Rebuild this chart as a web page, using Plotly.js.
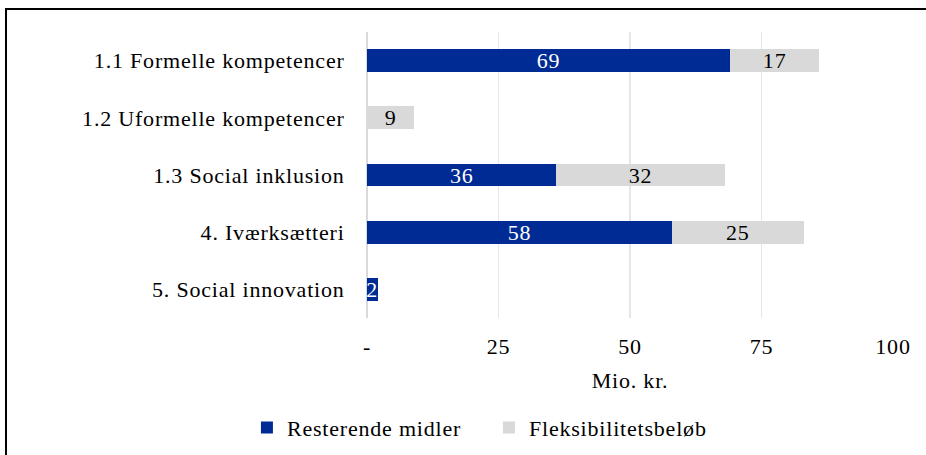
<!DOCTYPE html>
<html>
<head>
<meta charset="utf-8">
<script src="https://cdn.plot.ly/plotly-3.0.1.min.js"></script>
<style>
  html, body { margin: 0; padding: 0; background: #fff; }
  #wrap { position: relative; width: 926px; height: 455px; overflow: hidden; }
  #chart { position: absolute; left: 0; top: 0; width: 926px; height: 455px; }
  #chart svg text { letter-spacing: 0.8px; }
  #frame { position: absolute; left: 5px; top: 8px; width: 940px; height: 470px;
           border: 2px solid #000; pointer-events: none; box-sizing: border-box; }
</style>
</head>
<body>
<div id="wrap">
  <div id="chart"></div>
  <div id="frame"></div>
</div>
<script>
const categories = ["1.1 Formelle kompetencer", "1.2 Uformelle kompetencer", "1.3 Social inklusion", "4. Iværksætteri", "5. Social innovation"];
const resterende = [69, 0, 36, 58, 2];
const fleks = [17, 9, 32, 25, 0];
const tickVals = [0, 25, 50, 75, 100];
const tickText = ["-", "25", "50", "75", "100"];

const FONT = "'Liberation Serif', 'Times New Roman', serif";
const FS = 22;
const lbl = v => (v > 0 ? String(v) : "");

const traces = [
  {
    type: "bar", orientation: "h", name: "Resterende midler",
    y: categories, x: resterende,
    text: resterende.map(lbl), textposition: "inside", insidetextanchor: "middle",
    textangle: 0, constraintext: "none",
    textfont: { color: "#ffffff", size: FS, family: FONT },
    marker: { color: "#002B94" }, hoverinfo: "x+y", cliponaxis: false
  },
  {
    type: "bar", orientation: "h", name: "Fleksibilitetsbeløb",
    y: categories, x: fleks,
    text: fleks.map(lbl), textposition: "inside", insidetextanchor: "middle",
    textangle: 0, constraintext: "none",
    textfont: { color: "#000000", size: FS, family: FONT },
    marker: { color: "#D9D9D9" }, hoverinfo: "x+y", cliponaxis: false
  }
];

const layout = {
  width: 926, height: 455,
  margin: { l: 367, r: 33, t: 32, b: 137 },
  paper_bgcolor: "#ffffff", plot_bgcolor: "#ffffff",
  barmode: "stack", bargap: 0.6,
  font: { family: FONT, size: FS, color: "#000" },
  xaxis: {
    range: [0, 100], tickvals: tickVals, ticktext: tickText,
    showgrid: true, gridcolor: "#E6E6E6", gridwidth: 1.5,
    zeroline: true, zerolinecolor: "#D9D9D9", zerolinewidth: 1.5,
    showline: false, ticks: "outside", ticklen: 9, tickcolor: "rgba(0,0,0,0)",
    tickfont: { size: FS, family: FONT, color: "#000" },
    title: { text: "Mio. kr.", font: { size: FS, family: FONT, color: "#000" }, standoff: 14 },
    fixedrange: true
  },
  yaxis: {
    autorange: "reversed", showgrid: false, zeroline: false, showline: false,
    ticks: "outside", ticklen: 17, tickcolor: "rgba(0,0,0,0)",
    tickfont: { size: FS, family: FONT, color: "#000" },
    fixedrange: true
  },
  showlegend: true,
  legend: {
    orientation: "h", xref: "container", yref: "container",
    x: 0.528, xanchor: "center", y: 0.06, yanchor: "middle",
    entrywidth: 197,
    font: { size: FS, family: FONT, color: "#000" },
    traceorder: "normal", itemclick: false, itemdoubleclick: false
  }
};

Plotly.newPlot("chart", traces, layout, { displayModeBar: false, staticPlot: true });
</script>
</body>
</html>
